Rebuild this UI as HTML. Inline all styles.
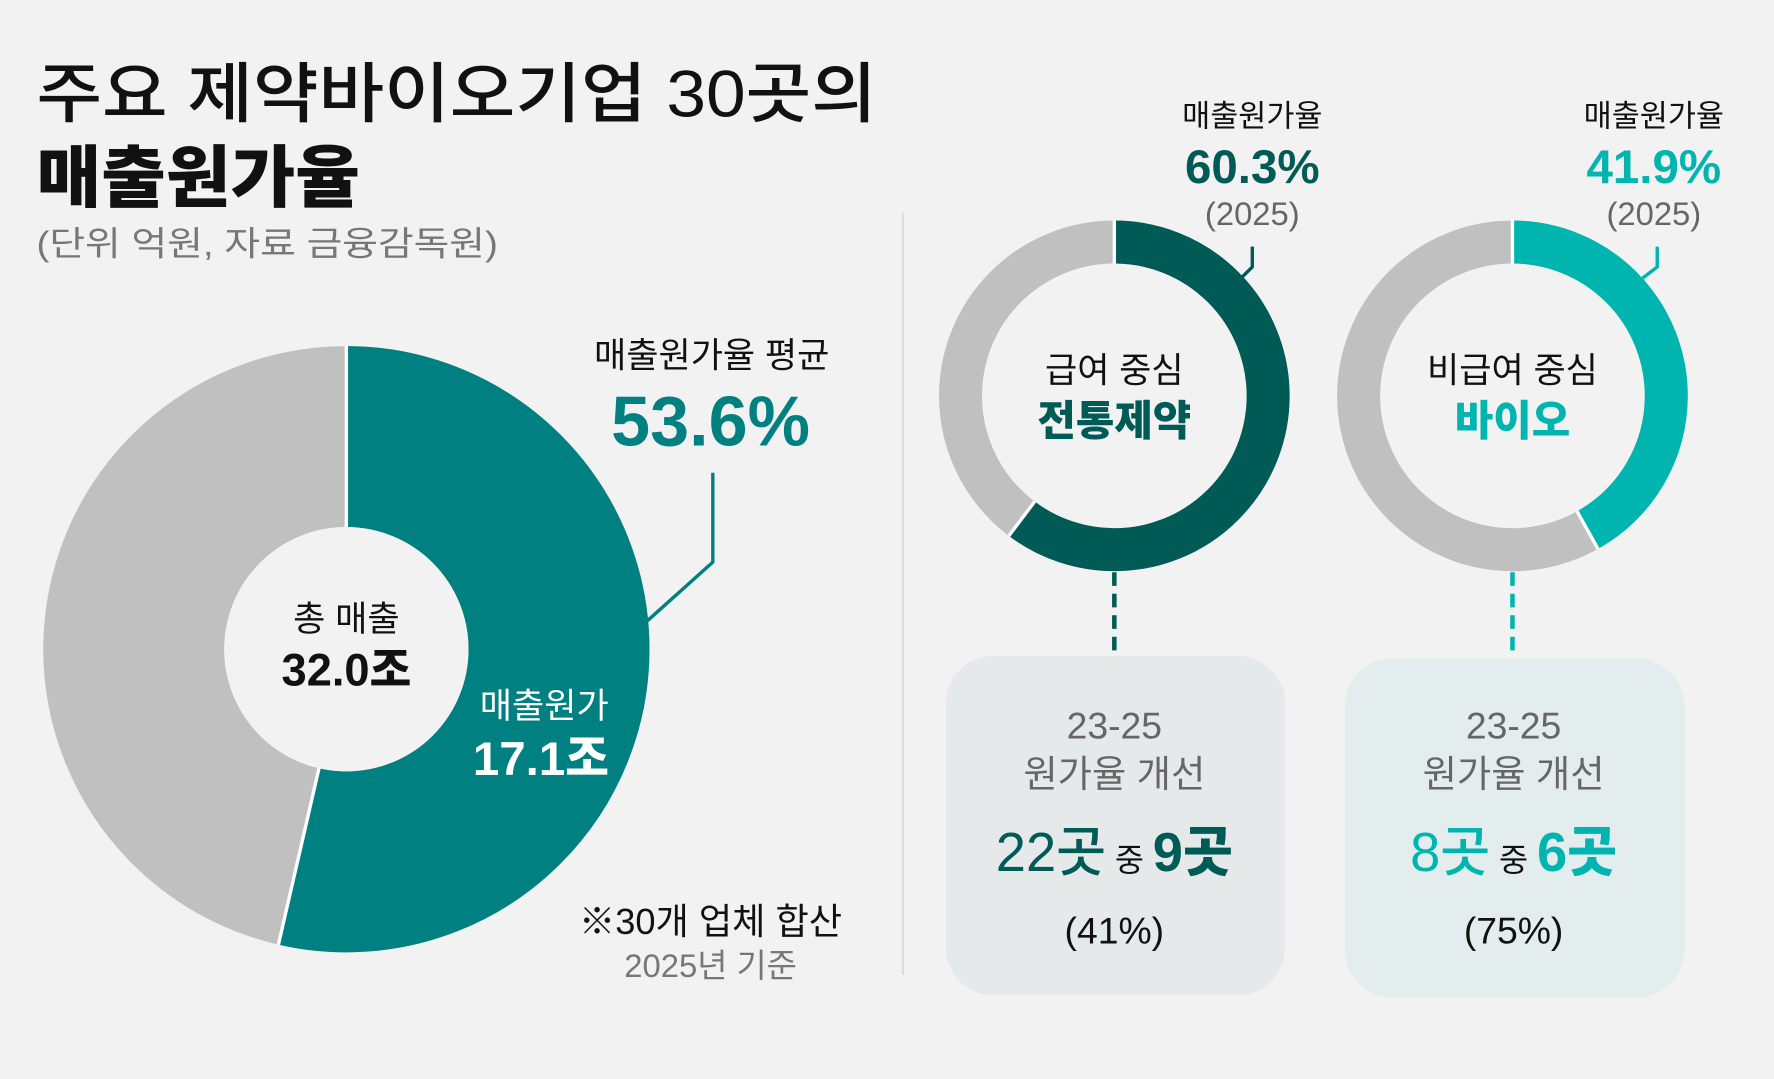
<!DOCTYPE html>
<html><head><meta charset="utf-8"><style>
html,body{margin:0;padding:0;background:#f2f2f2;}
svg{display:block;}
text{font-family:"Liberation Sans","Noto Sans CJK KR",sans-serif;}
</style></head><body>
<svg width="1774" height="1079" viewBox="0 0 1568 954" xmlns="http://www.w3.org/2000/svg">
<rect width="1568" height="954" fill="#f2f2f2"/>
<text x="32" y="103" font-size="58" fill="#111" font-weight="500" textLength="743" lengthAdjust="spacingAndGlyphs">주요 제약바이오기업 30곳의</text>
<text x="32" y="178" font-size="60" fill="#111" font-weight="900" textLength="286" lengthAdjust="spacingAndGlyphs">매출원가율</text>
<text x="32" y="226" font-size="30" fill="#777" textLength="408" lengthAdjust="spacingAndGlyphs">(단위 억원, 자료 금융감독원)</text>

<circle cx="306" cy="574" r="188" fill="none" stroke="#c0c0c0" stroke-width="160"/>
<circle cx="306" cy="574" r="188" fill="none" stroke="#008080" stroke-width="160" stroke-dasharray="633.1 2000" transform="rotate(-90 306 574)"/>
<circle cx="306" cy="574" r="108" fill="#f2f2f2"/>
<line x1="306" y1="306" x2="306" y2="466" stroke="#fff" stroke-width="3"/>
<line x1="281.8" y1="679.2" x2="245.9" y2="835.2" stroke="#fff" stroke-width="3"/>
<text x="306" y="558" font-size="31" text-anchor="middle" fill="#111">총 매출</text>
<text x="306" y="606" font-size="40" text-anchor="middle" fill="#111" font-weight="900">32.0조</text>
<text x="481" y="635" font-size="31" text-anchor="middle" fill="#fff">매출원가</text>
<text x="478" y="685" font-size="42" text-anchor="middle" fill="#fff" font-weight="900">17.1조</text>
<text x="629" y="325" font-size="31" text-anchor="middle" fill="#111">매출원가율 평균</text>
<text x="628" y="394" font-size="62" text-anchor="middle" fill="#008080" font-weight="900">53.6%</text>
<polyline points="630,418 630,497 572,549" fill="none" stroke="#008080" stroke-width="3"/>
<text x="628" y="826" font-size="32" text-anchor="middle" fill="#111">※30개 업체 합산</text>
<text x="628" y="864" font-size="29" text-anchor="middle" fill="#777">2025년 기준</text>

<line x1="798" y1="188" x2="798" y2="862" stroke="#dcdcdc" stroke-width="2"/>

<circle cx="985" cy="350" r="136" fill="none" stroke="#c0c0c0" stroke-width="38"/>
<circle cx="985" cy="350" r="136" fill="none" stroke="#005a55" stroke-width="38" stroke-dasharray="515.3 2000" transform="rotate(-90 985 350)"/>
<line x1="985" y1="195" x2="985" y2="233" stroke="#fff" stroke-width="3"/>
<line x1="914.6" y1="443.4" x2="891.7" y2="473.8" stroke="#fff" stroke-width="3"/>
<text x="985" y="338" font-size="31" text-anchor="middle" fill="#111">급여 중심</text>
<text x="985" y="385" font-size="37" text-anchor="middle" fill="#005a55" font-weight="900">전통제약</text>
<text x="1107" y="112" font-size="27" text-anchor="middle" fill="#111">매출원가율</text>
<text x="1107" y="162" font-size="42" text-anchor="middle" fill="#005a55" font-weight="900">60.3%</text>
<text x="1107" y="199" font-size="29" text-anchor="middle" fill="#666">(2025)</text>
<polyline points="1107,218 1107,236 1097,246" fill="none" stroke="#005a55" stroke-width="3"/>
<line x1="985" y1="506" x2="985" y2="580" stroke="#005a55" stroke-width="4" stroke-dasharray="12 7"/>
<rect x="836" y="580" width="300" height="300" rx="42" fill="#e5e9e9"/>
<text x="985" y="653" font-size="33" text-anchor="middle" fill="#666">23-25</text>
<text x="985" y="696" font-size="33" text-anchor="middle" fill="#666">원가율 개선</text>
<text x="985" y="770" text-anchor="middle" fill="#005a55"><tspan font-size="48" font-weight="500">22곳</tspan><tspan font-size="28" fill="#111"> 중 </tspan><tspan font-size="48" font-weight="900">9곳</tspan></text>
<text x="985" y="834" font-size="33" text-anchor="middle" fill="#111">(41%)</text>

<circle cx="1337" cy="350" r="136" fill="none" stroke="#c0c0c0" stroke-width="38"/>
<circle cx="1337" cy="350" r="136" fill="none" stroke="#00b5b0" stroke-width="38" stroke-dasharray="358 2000" transform="rotate(-90 1337 350)"/>
<line x1="1337" y1="195" x2="1337" y2="233" stroke="#fff" stroke-width="3"/>
<line x1="1394.1" y1="452.1" x2="1412.6" y2="485.3" stroke="#fff" stroke-width="3"/>
<text x="1337" y="338" font-size="31" text-anchor="middle" fill="#111">비급여 중심</text>
<text x="1337" y="385" font-size="37" text-anchor="middle" fill="#00b5b0" font-weight="900">바이오</text>
<text x="1462" y="112" font-size="27" text-anchor="middle" fill="#111">매출원가율</text>
<text x="1462" y="162" font-size="42" text-anchor="middle" fill="#00b5b0" font-weight="900">41.9%</text>
<text x="1462" y="199" font-size="29" text-anchor="middle" fill="#666">(2025)</text>
<polyline points="1465,218 1465,236 1452,246" fill="none" stroke="#00b5b0" stroke-width="3"/>
<line x1="1337" y1="506" x2="1337" y2="582" stroke="#00b5b0" stroke-width="4" stroke-dasharray="12 7"/>
<rect x="1189" y="582" width="300" height="300" rx="42" fill="#e3eded"/>
<text x="1338" y="653" font-size="33" text-anchor="middle" fill="#666">23-25</text>
<text x="1338" y="696" font-size="33" text-anchor="middle" fill="#666">원가율 개선</text>
<text x="1338" y="770" text-anchor="middle" fill="#00b5b0"><tspan font-size="48" font-weight="500">8곳</tspan><tspan font-size="28" fill="#111"> 중 </tspan><tspan font-size="48" font-weight="900">6곳</tspan></text>
<text x="1338" y="834" font-size="33" text-anchor="middle" fill="#111">(75%)</text>
</svg>
</body></html>
